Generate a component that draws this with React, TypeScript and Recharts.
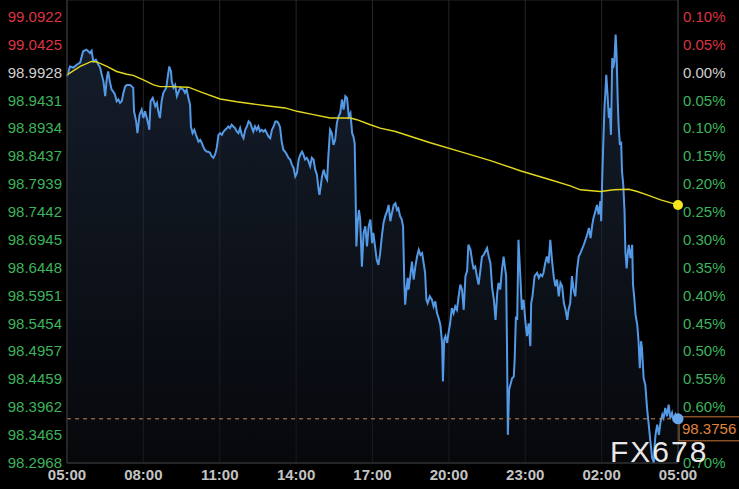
import { ComposedChart, Area, Line, XAxis, YAxis, CartesianGrid, ReferenceLine, ReferenceDot } from 'recharts';

// minutes since 05:00 and the traded price at that moment
const minutes = [
  0, 7, 15, 23, 31, 38, 46, 54, 58, 62,
  68, 74, 78, 82, 86, 90, 94, 97, 101, 105,
  109, 113, 117, 121, 125, 129, 133, 137, 141, 149,
  153, 156, 158, 163, 166, 171, 176, 180, 184, 188,
  192, 194, 197, 202, 208, 212, 215, 219, 223, 227,
  234, 237, 241, 245, 247, 251, 255, 259, 263, 267,
  274, 278, 282, 286, 290, 292, 296, 300, 304, 310,
  314, 318, 321, 325, 330, 333, 337, 341, 345, 349,
  353, 357, 361, 365, 369, 373, 377, 380, 384, 388,
  392, 396, 400, 404, 408, 412, 416, 420, 424, 428,
  432, 436, 439, 443, 447, 451, 455, 459, 463, 467,
  471, 475, 479, 483, 487, 491, 495, 498, 502, 506,
  510, 514, 518, 522, 526, 530, 534, 538, 542, 546,
  550, 554, 557, 561, 565, 569, 573, 577, 581, 585,
  589, 593, 595, 598, 601, 605, 609, 613, 616, 620,
  624, 628, 632, 636, 640, 644, 648, 652, 656, 660,
  664, 668, 672, 675, 678, 680, 682, 685, 688, 691,
  695, 699, 703, 707, 711, 715, 719, 722, 726, 730,
  734, 738, 742, 746, 750, 754, 758, 762, 766, 770,
  774, 778, 781, 785, 789, 792, 795, 797, 800, 803,
  805, 809, 813, 817, 821, 825, 829, 833, 837, 840,
  844, 847, 850, 855, 860, 864, 868, 872, 876, 880,
  884, 886, 889, 892, 896, 899, 903, 907, 911, 915,
  919, 923, 927, 931, 935, 939, 943, 946, 951, 955,
  958, 962, 966, 970, 974, 978, 982, 986, 990, 994,
  998, 1002, 1006, 1010, 1014, 1017, 1021, 1025, 1029, 1031,
  1035, 1037, 1039, 1042, 1046, 1049, 1053, 1055, 1058, 1061,
  1064, 1068, 1072, 1076, 1080, 1084, 1088, 1092, 1094, 1097,
  1102, 1108, 1112, 1116, 1120, 1123, 1127, 1131, 1135, 1139,
  1143, 1147, 1151, 1155, 1159, 1163, 1167, 1171, 1175, 1179,
  1182, 1186, 1190, 1194, 1198, 1202, 1206, 1210, 1218, 1226,
  1230, 1234, 1238, 1241, 1245, 1249, 1253, 1257, 1259, 1261,
  1264, 1267, 1269, 1271, 1274, 1277, 1279, 1282, 1285, 1287,
  1290, 1293, 1295, 1298, 1300, 1303, 1306, 1308, 1311, 1314,
  1316, 1319, 1322, 1324, 1328, 1332, 1334, 1337, 1340, 1344,
  1347, 1350, 1353, 1355, 1359, 1363, 1367, 1371, 1375, 1379,
  1383, 1385, 1387, 1391, 1395, 1399, 1403, 1406, 1410, 1414,
  1418, 1422, 1426, 1430, 1434, 1438, 1440,
];

const prices = [
  98.986, 99.004, 99.002, 99.007, 99.011, 99.031, 99.034, 99.028, 99.032, 99.013,
  99.016, 99.007, 99.002, 98.989, 98.977, 98.951, 98.984, 98.995, 98.977, 98.963,
  98.959, 98.954, 98.942, 98.945, 98.939, 98.942, 98.957, 98.968, 98.971, 98.971,
  98.968, 98.966, 98.924, 98.906, 98.885, 98.918, 98.927, 98.912, 98.924, 98.912,
  98.900, 98.891, 98.942, 98.948, 98.933, 98.939, 98.924, 98.912, 98.942, 98.957,
  98.966, 98.983, 99.004, 98.995, 98.977, 98.966, 98.971, 98.951, 98.959, 98.966,
  98.963, 98.957, 98.963, 98.948, 98.936, 98.897, 98.885, 98.891, 98.882, 98.870,
  98.873, 98.867, 98.861, 98.855, 98.852, 98.852, 98.850, 98.844, 98.841, 98.847,
  98.859, 98.882, 98.885, 98.882, 98.888, 98.891, 98.894, 98.897, 98.894, 98.900,
  98.897, 98.894, 98.888, 98.885, 98.894, 98.882, 98.876, 98.891, 98.897, 98.906,
  98.903, 98.894, 98.888, 98.897, 98.891, 98.897, 98.888, 98.891, 98.888, 98.891,
  98.885, 98.879, 98.876, 98.891, 98.897, 98.906, 98.906, 98.903, 98.896, 98.870,
  98.855, 98.852, 98.847, 98.841, 98.838, 98.829, 98.823, 98.808, 98.814, 98.838,
  98.847, 98.852, 98.847, 98.838, 98.841, 98.835, 98.826, 98.841, 98.838, 98.820,
  98.811, 98.784, 98.775, 98.790, 98.808, 98.820, 98.808, 98.802, 98.844, 98.891,
  98.885, 98.864, 98.873, 98.903, 98.915, 98.921, 98.945, 98.927, 98.951, 98.948,
  98.915, 98.921, 98.885, 98.879, 98.867, 98.784, 98.683, 98.725, 98.748, 98.731,
  98.647, 98.707, 98.719, 98.683, 98.719, 98.731, 98.689, 98.707, 98.683, 98.659,
  98.650, 98.671, 98.701, 98.725, 98.737, 98.745, 98.757, 98.728, 98.743, 98.757,
  98.760, 98.748, 98.751, 98.737, 98.731, 98.719, 98.618, 98.579, 98.606, 98.627,
  98.606, 98.630, 98.656, 98.624, 98.647, 98.665, 98.677, 98.668, 98.671, 98.656,
  98.636, 98.588, 98.582, 98.594, 98.588, 98.576, 98.585, 98.564, 98.555, 98.543,
  98.511, 98.442, 98.517, 98.523, 98.511, 98.529, 98.546, 98.573, 98.564, 98.576,
  98.570, 98.594, 98.615, 98.606, 98.570, 98.630, 98.639, 98.686, 98.677, 98.656,
  98.644, 98.647, 98.630, 98.615, 98.639, 98.665, 98.668, 98.674, 98.680, 98.665,
  98.653, 98.609, 98.588, 98.552, 98.600, 98.618, 98.606, 98.641, 98.665, 98.653,
  98.630, 98.505, 98.347, 98.428, 98.439, 98.448, 98.451, 98.481, 98.558, 98.552,
  98.695, 98.636, 98.570, 98.588, 98.552, 98.523, 98.546, 98.505, 98.582, 98.594,
  98.630, 98.636, 98.627, 98.633, 98.630, 98.636, 98.653, 98.665, 98.653, 98.695,
  98.659, 98.630, 98.612, 98.624, 98.594, 98.618, 98.612, 98.582, 98.570, 98.552,
  98.570, 98.582, 98.630, 98.606, 98.594, 98.641, 98.665, 98.671, 98.686, 98.704,
  98.716, 98.698, 98.722, 98.734, 98.745, 98.757, 98.740, 98.764, 98.728, 98.793,
  98.870, 98.936, 98.959, 98.989, 98.954, 98.912, 98.930, 98.882, 99.019, 99.001,
  99.013, 99.061, 99.031, 98.942, 98.900, 98.864, 98.870, 98.817, 98.793, 98.745,
  98.674, 98.644, 98.674, 98.686, 98.662, 98.686, 98.615, 98.591, 98.561, 98.543,
  98.514, 98.466, 98.514, 98.502, 98.448, 98.436, 98.395, 98.365, 98.335, 98.306,
  98.297, 98.329, 98.347, 98.365, 98.347, 98.371, 98.383, 98.377, 98.395, 98.380,
  98.401, 98.377, 98.386, 98.371, 98.383, 98.377, 98.3756,
];

// yellow average line
const avgMinutes = [
  0, 31, 58, 70, 94, 117, 141, 156, 180, 204,
  219, 243, 286, 321, 361, 400, 439, 479, 514, 542,
  581, 620, 668, 683, 715, 738, 774, 856, 927, 998,
  1068, 1139, 1186, 1210, 1257, 1289, 1324, 1344, 1367, 1399,
  1440,
];
const avgPrices = [
  98.989, 99.004, 99.013, 99.012, 99.004, 98.995, 98.990, 98.988, 98.980, 98.971,
  98.968, 98.968, 98.967, 98.957, 98.946, 98.941, 98.937, 98.933, 98.930, 98.924,
  98.918, 98.912, 98.912, 98.909, 98.900, 98.894, 98.888, 98.868, 98.852, 98.836,
  98.818, 98.802, 98.791, 98.784, 98.781, 98.784, 98.785, 98.781, 98.775, 98.766,
  98.757,
];

const xTicks = [0, 180, 360, 540, 720, 900, 1080, 1260, 1440];
const xLabels = ['05:00', '08:00', '11:00', '14:00', '17:00', '20:00', '23:00', '02:00', '05:00'];

const priceTicks = [
  99.0922, 99.0425, 98.9928, 98.9431, 98.8934, 98.8437, 98.7939, 98.7442, 98.6945,
  98.6448, 98.5951, 98.5454, 98.4957, 98.4459, 98.3962, 98.3465, 98.2968,
];
const pctLabels = [
  '0.10%', '0.05%', '0.00%', '0.05%', '0.10%', '0.15%', '0.20%', '0.25%', '0.30%',
  '0.35%', '0.40%', '0.45%', '0.50%', '0.55%', '0.60%', '0.65%', '0.70%',
];

const basePrice = 98.9928;
const lastPrice = 98.3756;
const lastAvg = 98.757;

const series = minutes.map((t, i) => ({ t, price: prices[i] }));
const avgSeries = avgMinutes.map((t, i) => ({ t, avg: avgPrices[i] }));

const FONT = "Arial, 'Liberation Sans', sans-serif";
const RED = '#de3341';
const GREEN = '#3db35c';
const NEUTRAL = '#cfcfcf';

const colorFor = (v: number) => (v > basePrice + 1e-6 ? RED : v < basePrice - 1e-6 ? GREEN : NEUTRAL);

const nearestTick = (v: number) => {
  let best = 0;
  priceTicks.forEach((p, i) => {
    if (Math.abs(p - v) < Math.abs(priceTicks[best] - v)) best = i;
  });
  return best;
};

const LeftTick = (props: any) => {
  const { x, y, payload } = props;
  return (
    <text x={x} y={y} dy={5} textAnchor="end" fill={colorFor(payload.value)} fontSize={15} fontFamily={FONT}>
      {Number(payload.value).toFixed(4)}
    </text>
  );
};

const RightTick = (props: any) => {
  const { x, y, payload } = props;
  const idx = nearestTick(Number(payload.value));
  const v = priceTicks[idx];
  // the last-price tag sits over this part of the right axis
  if (v < lastPrice && lastPrice - v < 0.04) return <g />;
  return (
    <text x={x} y={y} dy={5} textAnchor="start" fill={colorFor(v)} fontSize={15} fontFamily={FONT}>
      {pctLabels[idx]}
    </text>
  );
};

const LastPriceTag = (props: any) => {
  const vb = props.viewBox || {};
  const left = vb.x + vb.width + 1;
  return (
    <g>
      <rect x={left} y={vb.y - 2} width={62} height={24} fill="#000" stroke="#c8763a" strokeWidth={1} />
      <text x={left + 3} y={vb.y + 15} fill="#e0843e" fontSize={15} fontFamily={FONT}>
        {lastPrice.toFixed(4)}
      </text>
    </g>
  );
};

const App = () => {
  return (
    <div style={{ position: 'absolute', left: 0, top: 0, width: 739, height: 489, background: '#000', overflow: 'hidden' }}>
      <ComposedChart width={739} height={489} data={series} margin={{ top: 0, right: 0, bottom: 0, left: 0 }}>
        <defs>
          <linearGradient id="areaFill" x1="0" y1="0" x2="0" y2="1">
            <stop offset="0%" stopColor="#25334b" stopOpacity={0.95} />
            <stop offset="100%" stopColor="#0b0e14" stopOpacity={0.95} />
          </linearGradient>
        </defs>
        <CartesianGrid stroke="#262626" strokeWidth={1} />
        <XAxis
          dataKey="t"
          type="number"
          domain={[0, 1440]}
          ticks={xTicks}
          tickFormatter={(v: number) => xLabels[xTicks.indexOf(v)]}
          height={26}
          axisLine={{ stroke: '#3a3a3a' }}
          tickLine={false}
          tickSize={5}
          tickMargin={1}
          tick={{ fill: '#c4c4c4', fontSize: 15, fontWeight: 'bold', fontFamily: FONT }}
          interval={0}
        />
        <YAxis
          yAxisId="left"
          type="number"
          domain={[98.2968, 99.1225]}
          ticks={priceTicks}
          width={67}
          axisLine={{ stroke: '#3a3a3a' }}
          tickLine={false}
          tickSize={5}
          tickMargin={0}
          tick={<LeftTick />}
          interval={0}
          allowDataOverflow
        />
        <YAxis
          yAxisId="right"
          orientation="right"
          type="number"
          domain={[98.2968, 99.1225]}
          ticks={priceTicks}
          width={61}
          axisLine={{ stroke: '#3a3a3a' }}
          tickLine={false}
          tickSize={5}
          tickMargin={0}
          tick={<RightTick />}
          interval={0}
          allowDataOverflow
        />
        <Area
          yAxisId="left"
          type="linear"
          dataKey="price"
          stroke="#5499e6"
          strokeWidth={2}
          fill="url(#areaFill)"
          isAnimationActive={false}
          dot={false}
          activeDot={false}
        />
        {/* invisible copy on the right axis so that axis is bound to data */}
        <Line
          yAxisId="right"
          type="linear"
          dataKey="price"
          stroke="none"
          strokeOpacity={0}
          dot={false}
          activeDot={false}
          isAnimationActive={false}
          legendType="none"
        />
        <Line
          yAxisId="left"
          data={avgSeries}
          type="linear"
          dataKey="avg"
          stroke="#e3d820"
          strokeWidth={1.4}
          dot={false}
          activeDot={false}
          isAnimationActive={false}
        />
        <ReferenceLine
          yAxisId="left"
          y={lastPrice}
          stroke="#c8884a"
          strokeDasharray="4 4"
          strokeWidth={1}
          label={<LastPriceTag />}
        />
        <ReferenceDot yAxisId="left" x={1440} y={lastPrice} r={5.5} fill="#6aa8ee" stroke="none" />
        <ReferenceDot yAxisId="left" x={1440} y={lastAvg} r={5} fill="#f5e51e" stroke="none" />
      </ComposedChart>
      <div
        style={{
          position: 'absolute',
          left: 610,
          top: 437,
          fontFamily: FONT,
          fontSize: 30,
          lineHeight: '30px',
          letterSpacing: 2,
          color: 'rgba(255,255,255,0.93)',
          pointerEvents: 'none',
        }}
      >
        FX678
      </div>
    </div>
  );
};

export default App;
